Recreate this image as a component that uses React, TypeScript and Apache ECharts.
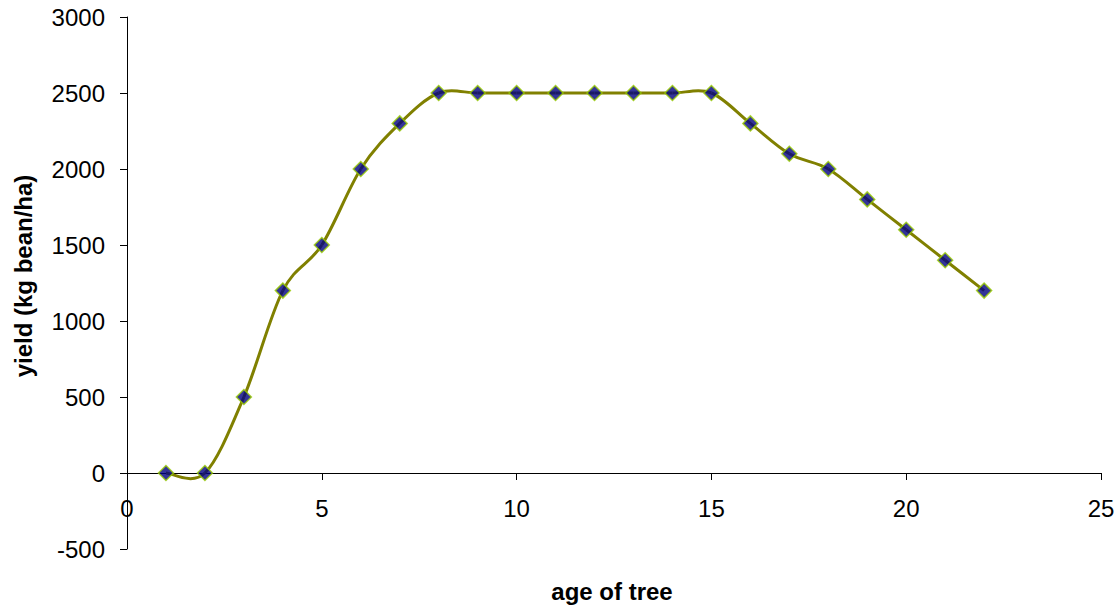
import React, { useEffect, useRef } from "react";
import * as echarts from "echarts";

const ages = [1, 2, 3, 4, 5, 6, 7, 8, 9, 10, 11, 12, 13, 14, 15, 16, 17, 18, 19, 20, 21, 22];
const yields = [0, 0, 500, 1200, 1500, 2000, 2300, 2500, 2500, 2500, 2500, 2500, 2500, 2500, 2500, 2300, 2100, 2000, 1800, 1600, 1400, 1200];
const xTitle = "age of tree";
const yTitle = "yield (kg bean/ha)";

const FONT = "Arial, 'Liberation Sans', sans-serif";

export default function App() {
  const ref = useRef<HTMLDivElement>(null);
  useEffect(() => {
    if (!ref.current) return;
    const chart = echarts.init(ref.current, undefined, { renderer: "svg" });
    const pts = ages.map((a, i) => [a, yields[i]]);
    const n = pts.length;
    chart.setOption({
      animation: false,
      backgroundColor: "#ffffff",
      grid: { left: 127, right: 18, top: 17, bottom: 58, containLabel: false },
      xAxis: {
        type: "value",
        min: 0,
        max: 25,
        interval: 5,
        offset: -76,
        axisLine: { onZero: false, lineStyle: { color: "#000000", width: 1 } },
        axisTick: { show: true, length: 7, lineStyle: { color: "#000000" } },
        axisLabel: { color: "#000000", fontSize: 24, fontFamily: FONT, margin: 23 },
        splitLine: { show: false },
      },
      yAxis: {
        type: "value",
        min: -500,
        max: 3000,
        interval: 500,
        axisLine: { show: true, onZero: false, lineStyle: { color: "#000000", width: 1 } },
        axisTick: { show: true, length: 7, lineStyle: { color: "#000000" } },
        axisLabel: {
          color: "#000000",
          fontSize: 24,
          fontFamily: FONT,
          margin: 22,
          formatter: (v: number) => String(v),
        },
        splitLine: { show: false },
      },
      graphic: [
        {
          type: "text",
          x: 612,
          y: 591,
          style: {
            text: xTitle,
            fill: "#000000",
            font: `bold 24px ${FONT}`,
            align: "center",
            verticalAlign: "middle",
          },
        },
        {
          type: "text",
          x: 23,
          y: 276,
          rotation: Math.PI / 2,
          style: {
            text: yTitle,
            fill: "#000000",
            font: `bold 24px ${FONT}`,
            align: "center",
            verticalAlign: "middle",
          },
        },
      ],
      series: [
        {
          type: "custom",
          data: pts,
          z: 2,
          clip: false,
          renderItem: (params: any, api: any) => {
            const i = params.dataIndex;
            if (i >= n - 1) return null;
            const c = (k: number) => {
              const kk = Math.max(0, Math.min(n - 1, k));
              return api.coord(pts[kk]);
            };
            const p0 = c(i - 1);
            const p1 = c(i);
            const p2 = c(i + 1);
            const p3 = c(i + 2);
            const t = 1 / 6;
            return {
              type: "bezierCurve",
              shape: {
                x1: p1[0],
                y1: p1[1],
                cpx1: p1[0] + (p2[0] - p0[0]) * t,
                cpy1: p1[1] + (p2[1] - p0[1]) * t,
                cpx2: p2[0] - (p3[0] - p1[0]) * t,
                cpy2: p2[1] - (p3[1] - p1[1]) * t,
                x2: p2[0],
                y2: p2[1],
              },
              style: { stroke: "#808000", lineWidth: 3, fill: null },
            };
          },
        },
        {
          type: "scatter",
          data: pts,
          z: 3,
          symbol: "diamond",
          symbolSize: 15,
          itemStyle: { color: "#000080", borderColor: "#99cc00", borderWidth: 1.5 },
        },
      ],
    });
    return () => chart.dispose();
  }, []);
  return (
    <div
      ref={ref}
      style={{ position: "fixed", left: 0, top: 0, width: 1119, height: 607 }}
    />
  );
}
